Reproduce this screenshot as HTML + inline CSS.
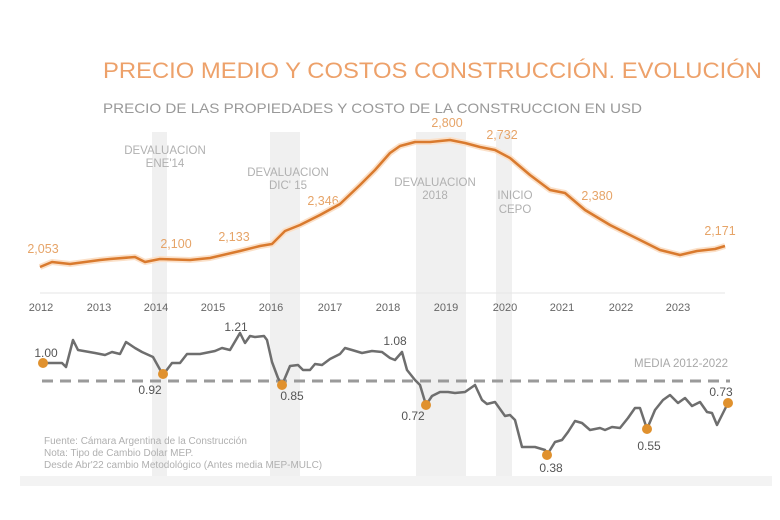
<!DOCTYPE html>
<html><head><meta charset="utf-8"><style>
body{margin:0;background:#fff;}
svg{display:block;font-family:"Liberation Sans",sans-serif;}
</style></head><body>
<svg width="780" height="520" viewBox="0 0 780 520">
<rect width="780" height="520" fill="#fff"/>
<g fill="#f0f0f0">
<rect x="152" y="132" width="15" height="346"/>
<rect x="270" y="132" width="30" height="346"/>
<rect x="416" y="132" width="50" height="346"/>
<rect x="496" y="132" width="16" height="346"/>
</g>
<rect x="20" y="476" width="752" height="10" fill="#f3f3f3"/>
<text x="103" y="78" font-size="22.5" fill="#eda16a" textLength="659" lengthAdjust="spacingAndGlyphs">PRECIO MEDIO Y COSTOS CONSTRUCCIÓN. EVOLUCIÓN</text>
<text x="103" y="113" font-size="14" fill="#999" textLength="539" lengthAdjust="spacingAndGlyphs">PRECIO DE LAS PROPIEDADES Y COSTO DE LA CONSTRUCCION EN USD</text>
<line x1="40" y1="293" x2="725" y2="293" stroke="#e6e6e6" stroke-width="1"/>
<g font-size="11" fill="#666" text-anchor="middle">
<text x="41" y="311">2012</text><text x="99" y="311">2013</text><text x="156" y="311">2014</text><text x="213" y="311">2015</text><text x="271" y="311">2016</text><text x="330" y="311">2017</text><text x="388" y="311">2018</text><text x="446" y="311">2019</text><text x="505" y="311">2020</text><text x="562" y="311">2021</text><text x="621" y="311">2022</text><text x="678" y="311">2023</text>
</g>
<g font-size="11.5" fill="#b0b0b0" text-anchor="middle">
<text x="165" y="154">DEVALUACION</text><text x="165" y="167">ENE'14</text>
<text x="288" y="176">DEVALUACION</text><text x="288" y="189">DIC' 15</text>
<text x="435" y="186">DEVALUACION</text><text x="435" y="199">2018</text>
<text x="515" y="199">INICIO</text><text x="515" y="213">CEPO</text>
</g>
<g font-size="12.5" fill="#e6a468" text-anchor="middle">
<text x="43" y="253">2,053</text><text x="176" y="248">2,100</text><text x="234" y="241">2,133</text><text x="323" y="205">2,346</text><text x="447" y="127">2,800</text><text x="502" y="139">2,732</text><text x="597" y="200">2,380</text><text x="720" y="235">2,171</text>
</g>
<polyline fill="none" stroke="#fbe0c8" stroke-width="6" stroke-linejoin="round" points="40,267 52,262 70,264 100,260 110,259 135,257 145,262 160,259 190,260 210,258 240,251 260,246 272,244 285,231 300,225 320,215 340,204 360,185 375,170 390,153 400,146 415,142 430,142 450,140 465,143 480,147 495,150 510,158 530,175 550,190 565,193 585,210 610,225 640,240 660,250 680,255 697,251 715,249 725,246"/>
<polyline fill="none" stroke="#d97a2e" stroke-width="2.5" stroke-linejoin="round" points="40,267 52,262 70,264 100,260 110,259 135,257 145,262 160,259 190,260 210,258 240,251 260,246 272,244 285,231 300,225 320,215 340,204 360,185 375,170 390,153 400,146 415,142 430,142 450,140 465,143 480,147 495,150 510,158 530,175 550,190 565,193 585,210 610,225 640,240 660,250 680,255 697,251 715,249 725,246"/>
<line x1="42" y1="381" x2="730" y2="381" stroke="#9a9a9a" stroke-width="3" stroke-dasharray="11,7"/>
<text x="728" y="367" font-size="11.5" fill="#a8a8a8" text-anchor="end">MEDIA 2012-2022</text>
<polyline fill="none" stroke="#6e6e6e" stroke-width="2.5" stroke-linejoin="round" points="43,363 62,363 66,367 73,340 78,350 95,353 105,355 112,352 120,354 126,342 135,348 142,352 153,357 163,375 172,363 180,363 187,354 200,354 215,351 222,348 230,350 240,333 245,343 250,336 255,337 264,336 267,340 272,362 278,378 282,385 290,366 298,365 303,370 310,370 315,364 322,365 330,359 340,354 345,348 352,350 362,353 372,351 382,352 390,358 395,360 402,352 407,370 415,380 420,385 426,405 432,396 440,392 448,392 455,393 465,392 475,385 482,400 487,404 495,402 505,416 510,415 515,420 522,447 535,447 545,450 547,455 555,442 562,440 568,432 575,421 582,423 590,430 600,428 605,430 612,427 620,428 628,418 635,408 640,408 647,429 655,410 663,400 670,395 678,403 685,398 692,406 700,402 707,412 712,413 717,425 728,403"/>
<g fill="#e0912e">
<circle cx="43" cy="363" r="5"/><circle cx="163" cy="374" r="5"/><circle cx="282" cy="385" r="5"/><circle cx="426" cy="405" r="5"/><circle cx="547" cy="455" r="5"/><circle cx="647" cy="429" r="5"/><circle cx="728" cy="403" r="5"/>
</g>
<g font-size="12" fill="#555" text-anchor="middle">
<text x="46" y="357">1.00</text><text x="150" y="394">0.92</text><text x="292" y="400">0.85</text><text x="413" y="420">0.72</text><text x="236" y="331">1.21</text><text x="395" y="345">1.08</text><text x="551" y="472">0.38</text><text x="649" y="450">0.55</text><text x="721" y="396">0.73</text>
</g>
<g font-size="10" fill="#b0b0b0">
<text x="44" y="444">Fuente: Cámara Argentina de la Construcción</text>
<text x="44" y="456">Nota: Tipo de Cambio Dolar MEP.</text>
<text x="44" y="468">Desde Abr'22 cambio Metodológico (Antes media MEP-MULC)</text>
</g>
</svg>
</body></html>
